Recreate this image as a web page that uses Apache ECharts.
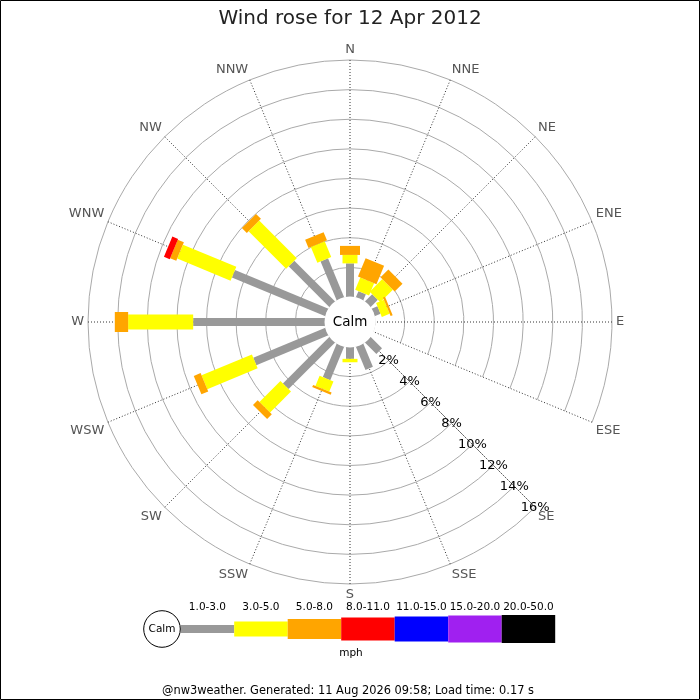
<!DOCTYPE html>
<html>
<head>
<meta charset="utf-8">
<script src="https://cdn.jsdelivr.net/npm/echarts@6.0.0/dist/echarts.min.js"></script>
<style>
html,body{margin:0;padding:0;background:#fff}
#chart{width:700px;height:700px}
</style>
</head>
<body>
<div id="chart"></div>
<script>
// ---- data ----
const directions = ['N','NNE','NE','ENE','E','ESE','SE','SSE','S','SSW','SW','WSW','W','WNW','NW','NNW'];
const speedBins = ['1.0-3.0','3.0-5.0','5.0-8.0','8.0-11.0','11.0-15.0','15.0-20.0','20.0-50.0'];
const speedUnit = 'mph';
// frequency (% of time) per direction, one array per speed bin
const pct_1_3   = [2.27,0.45,0.70,0.43,0,0,1.10,1.70,0.80,2.45,4.45,5.27,8.90,6.83,3.90,2.85];
const pct_3_5   = [0.57,0.90,1.20,0.57,0,0,0,0,0.23,0.74,2.00,3.68,4.39,3.90,3.59,1.15];
const pct_5_8   = [0.61,1.35,0.75,0.15,0,0,0,0,0,0.16,0.45,0.50,0.90,0.45,0.47,0.60];
const pct_8_11  = [0,0,0,0,0,0,0,0,0,0,0,0,0,0.42,0,0];
const pct_11_15 = [0,0,0,0,0,0,0,0,0,0,0,0,0,0,0,0];
const pct_15_20 = [0,0,0,0,0,0,0,0,0,0,0,0,0,0,0,0];
const pct_20_50 = [0,0,0,0,0,0,0,0,0,0,0,0,0,0,0,0];
const radiusTickLabels = ['','2%','4%','6%','8%','10%','12%','14%','16%'];
const radiusMax = 16;
const titleText = 'Wind rose for 12 Apr 2012';
const footerText = '@nw3weather. Generated: 11 Aug 2026 09:58; Load time: 0.17 s';

// ---- styles ----
const binColors = ['#999999','#ffff00','#ffa500','#ff0000','#0000ff','#a020f0','#000000'];
const barWidths = [8,15,20,22,24,26,28];
const legendHeights = [8,15,20,23,25,27,28];
const FONT = 'DejaVu Sans';
const spokeStyle = { color: '#333', type: [1, 2], width: 1 };

const allBins = [pct_1_3,pct_3_5,pct_5_8,pct_8_11,pct_11_15,pct_15_20,pct_20_50];
// axis order starts at SE so the % labels run along the SE spoke
const seIdx = directions.indexOf('SE');
const axisDirs = directions.slice(seIdx).concat(directions.slice(0, seIdx));

function barRenderer(halfWidth, color) {
  return function (params, api) {
    const end = api.value(0), angle = api.value(1), start = api.value(2);
    if (!(end > start)) return null;
    const c0 = api.coord([0, angle]);
    const c1 = api.coord([radiusMax, angle]);
    const len = Math.hypot(c1[0]-c0[0], c1[1]-c0[1]);
    const ux = (c1[0]-c0[0])/len, uy = (c1[1]-c0[1])/len;
    const nx = -uy*halfWidth, ny = ux*halfWidth;
    const p0 = api.coord([start, angle]), p1 = api.coord([end, angle]);
    return {
      type: 'polygon',
      shape: { points: [[p0[0]+nx,p0[1]+ny],[p1[0]+nx,p1[1]+ny],[p1[0]-nx,p1[1]-ny],[p0[0]-nx,p0[1]-ny]] },
      style: { fill: color }
    };
  };
}

const cum = directions.map(() => 0);
const series = allBins.map((vals, k) => {
  const data = directions.map((d, i) => {
    const s = cum[i];
    cum[i] = s + vals[i];
    return [cum[i], d, s];
  });
  return {
    type: 'custom',
    name: speedBins[k],
    coordinateSystem: 'polar',
    renderItem: barRenderer(barWidths[k]/2, binColors[k]),
    data: data,
    z: 3
  };
});
// spoke along the % label direction (first angle tick), drawn through the polar scales
series.unshift({
  type: 'custom',
  coordinateSystem: 'polar',
  silent: true,
  z: 1,
  data: [[radiusMax, axisDirs[0], 0]],
  renderItem: function (params, api) {
    const a = api.value(1);
    const p0 = api.coord([api.value(2), a]), p1 = api.coord([api.value(0), a]);
    return { type: 'line', shape: { x1: p0[0], y1: p0[1], x2: p1[0], y2: p1[1] },
             style: { stroke: spokeStyle.color, lineWidth: 1, lineDash: spokeStyle.type, fill: null } };
  }
});

// ---- legend (graphic) ----
const legX0 = 180.7, legW = 53.5, legCY = 629;
const graphics = [
  { type: 'rect', shape: { x: 0.5, y: 0.5, width: 699, height: 699 }, style: { fill: null, stroke: '#000', lineWidth: 1 }, z: 200 },
  { type: 'circle', shape: { cx: 350, cy: 322, r: 25.5 }, style: { fill: '#fff' }, z: 100 },
  { type: 'text', x: 350, y: 322, style: { text: 'Calm', fill: '#000', font: '13.5px "DejaVu Sans"', align: 'center', verticalAlign: 'middle' }, z: 101 },
  { type: 'circle', shape: { cx: 162, cy: legCY, r: 18.3 }, style: { fill: '#fff', stroke: '#000', lineWidth: 1 }, z: 100 },
  { type: 'text', x: 162, y: legCY, style: { text: 'Calm', fill: '#000', font: '10.5px "DejaVu Sans"', align: 'center', verticalAlign: 'middle' }, z: 101 },
  { type: 'text', x: 351, y: 653.5, style: { text: speedUnit, fill: '#000', font: '10.5px "DejaVu Sans"', align: 'center', verticalAlign: 'middle' }, z: 101 },
  { type: 'text', x: 348, y: 691.5, style: { text: footerText, fill: '#000', font: '11.4px "DejaVu Sans"', align: 'center', verticalAlign: 'middle' }, z: 101 }
];
speedBins.forEach((lab, k) => {
  const x = legX0 + k*legW;
  graphics.push({ type: 'rect', shape: { x: x, y: legCY - legendHeights[k]/2, width: legW, height: legendHeights[k] }, style: { fill: binColors[k] }, z: 99 });
  graphics.push({ type: 'text', x: x + legW/2, y: 607.5, style: { text: lab, fill: '#000', font: '10.5px "DejaVu Sans"', align: 'center', verticalAlign: 'middle' }, z: 101 });
});

const chart = echarts.init(document.getElementById('chart'), null, { renderer: 'canvas' });
chart.setOption({
  animation: false,
  backgroundColor: '#fff',
  textStyle: { fontFamily: FONT },
  title: {
    text: titleText, left: 'center', top: 4,
    textStyle: { fontSize: 20, fontWeight: 'normal', color: '#222', fontFamily: FONT }
  },
  polar: { center: [350, 322], radius: [25, 262] },
  angleAxis: {
    type: 'category', data: axisDirs, startAngle: -45, clockwise: true, boundaryGap: false,
    axisLine: { show: false },
    axisTick: { show: false },
    axisLabel: { margin: 4, color: '#555', fontSize: 13, fontFamily: FONT },
    splitLine: { show: true, lineStyle: spokeStyle },
    splitArea: { show: false }
  },
  radiusAxis: {
    type: 'value', min: 0, max: radiusMax, interval: 2,
    axisLine: { show: false },
    axisTick: { show: false },
    axisLabel: {
      margin: 0, align: 'center', verticalAlign: 'middle', color: '#000', fontSize: 13, fontFamily: FONT,
      formatter: v => radiusTickLabels[Math.round(v/2)]
    },
    splitLine: { show: true, lineStyle: { color: '#aaaaaa', width: 1, type: 'solid' } },
    splitArea: { show: false }
  },
  series: series,
  graphic: graphics
});
</script>
</body>
</html>
